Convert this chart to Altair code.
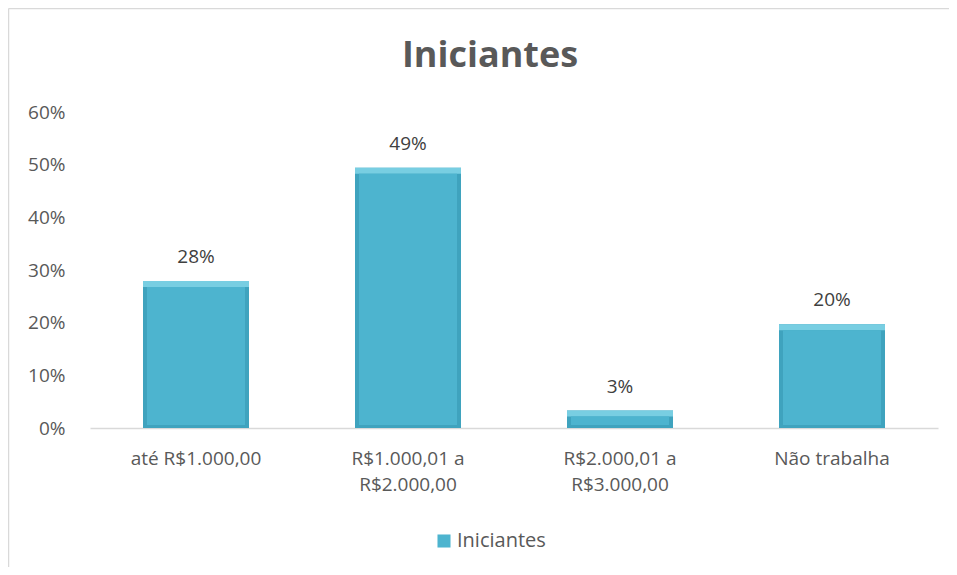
import altair as alt
import pandas as pd

categories = ["até R$1.000,00", "R$1.000,01 a\nR$2.000,00", "R$2.000,01 a\nR$3.000,00", "Não trabalha"]
values = [0.279, 0.494, 0.033, 0.197]
series = ["Iniciantes"] * 4

df = pd.DataFrame({"categoria": categories, "valor": values, "serie": series})

FONT = "Open Sans"
GREY = "#595959"

x_enc = alt.X(
    "categoria:N",
    sort=categories,
    scale=alt.Scale(paddingInner=0, paddingOuter=0),
    axis=alt.Axis(
        title=None, labelAngle=0, ticks=False, domainColor="#d9d9d9", domainWidth=1.5,
        labelFontSize=19, labelColor=GREY, labelFont=FONT, labelPadding=21,
        labelLineHeight=26, labelExpr="split(datum.label, '\\n')", grid=False,
    ),
)
y_scale = alt.Scale(domain=[0, 0.6], nice=False)

base = alt.Chart(df)

bar_base = base.mark_bar(width=106, color="#3fa3be").encode(
    x=x_enc,
    y=alt.Y(
        "valor:Q", scale=y_scale,
        axis=alt.Axis(
            title=None, format=".0%", values=[0, 0.1, 0.2, 0.3, 0.4, 0.5, 0.6],
            ticks=False, domain=False, grid=False, labelFontSize=19, labelColor=GREY,
            labelFont=FONT, labelPadding=25,
        ),
    ),
)

bar_top = base.mark_bar(width=106, color="#78cee2", y2Offset=6).encode(
    x=alt.X("categoria:N", sort=categories),
    y=alt.Y("valor:Q", scale=y_scale),
    y2="valor:Q",
)

bar_face = base.mark_bar(width=98, yOffset=6, y2Offset=-3).encode(
    x=alt.X("categoria:N", sort=categories),
    y=alt.Y("valor:Q", scale=y_scale),
    y2=alt.datum(0),
    color=alt.Color(
        "serie:N",
        scale=alt.Scale(domain=["Iniciantes"], range=["#4db4cf"]),
        legend=alt.Legend(
            title=None, orient="none", legendX=344, legendY=419, symbolType="square",
            symbolSize=170, symbolStrokeWidth=0, labelFontSize=20, labelColor=GREY,
            labelFont=FONT, padding=0, labelOffset=3,
        ),
    ),
)

labels = base.mark_text(
    fontSize=19, font=FONT, color="#404040", baseline="bottom", dy=-14
).encode(
    x=alt.X("categoria:N", sort=categories),
    y=alt.Y("valor:Q", scale=y_scale),
    text=alt.Text("valor:Q", format=".0%"),
)

frame_df = pd.DataFrame({"k": [0]})
frame_left = alt.Chart(frame_df).mark_rule(color="#d9d9d9", strokeWidth=1.5).encode(
    x=alt.value(-81.5), y=alt.value(-103.5), y2=alt.value(455)
)
frame_top = alt.Chart(frame_df).mark_rule(color="#d9d9d9", strokeWidth=1.5).encode(
    x=alt.value(-81.5), x2=alt.value(859), y=alt.value(-103.5)
)

chart = alt.layer(bar_base, bar_top, bar_face, labels, frame_left, frame_top).properties(
    width=848,
    height=316,
    title=alt.TitleParams(
        "Iniciantes", fontSize=36, fontWeight="bold", color=GREY, font=FONT,
        anchor="middle", dx=-24, offset=-67,
    ),
    autosize=alt.AutoSizeParams(type="none"),
    padding={"left": 82, "top": 104, "right": 11, "bottom": 139},
).configure(background="white", view=alt.ViewConfig(strokeWidth=0, stroke="transparent"))

chart.save("out.html", embed_options={"renderer": "svg", "actions": False})
